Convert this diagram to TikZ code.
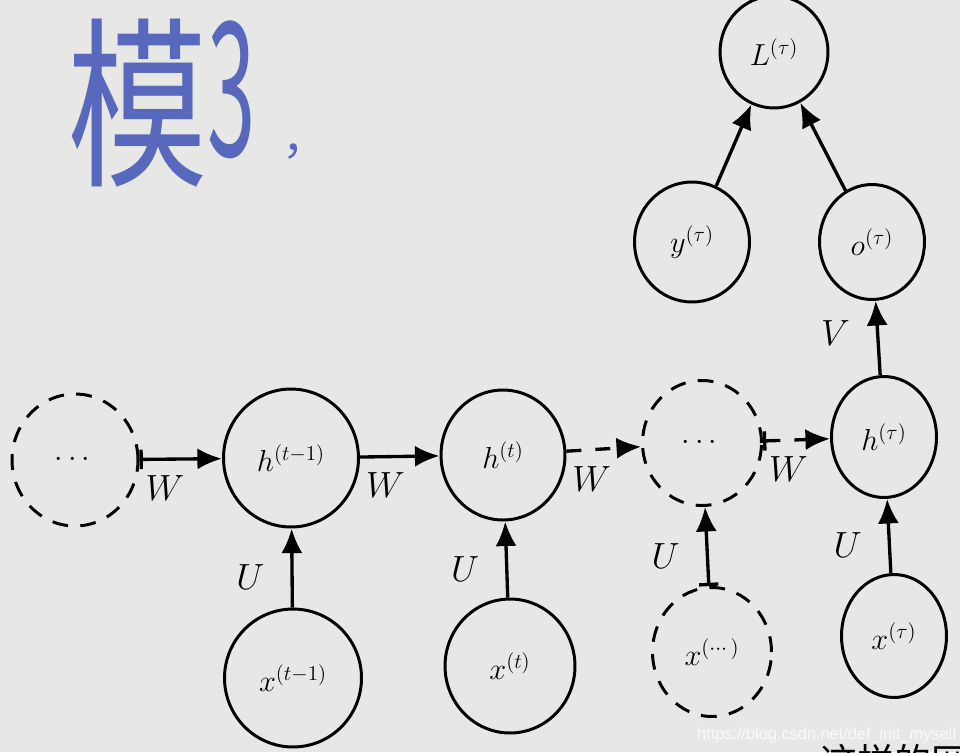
\documentclass[tikz,border=0pt]{standalone}
\usepackage{amsmath,amssymb}
\usepackage{fontspec}
\newfontfamily\cjk{Noto Sans CJK SC}
\newfontfamily\wmfont{Liberation Sans}
\usetikzlibrary{arrows.meta,shapes.geometric}
\definecolor{paper}{RGB}{231,231,229}
\definecolor{pen}{RGB}{62,82,182}

\begin{document}
\begin{tikzpicture}[x=0.02cm, y=-0.02cm,
    every node/.style={inner sep=0pt},
    cell/.style={ellipse, draw, line width=1.7pt, font=\LARGE},
    dcell/.style={cell, dash pattern=on 9pt off 7pt},
    arr/.style={line width=1.9pt, -{Latex[length=14pt,width=12pt]}},
    darr/.style={arr, dash pattern=on 8.5pt off 8pt},
    barr/.style={line width=1.9pt, {Bar[width=11pt]}-{Latex[length=14pt,width=12pt]}},
    wlab/.style={font=\huge, anchor=north west, pos=0, xshift=2.5pt, yshift=-8pt},
    ulab/.style={font=\huge, left=0.52cm, pos=0.38},
    ink/.style={text=pen, opacity=0.85}]

\fill[paper] (0,0) rectangle (960,752);
\useasboundingbox (0,0) rectangle (960,752);
\clip (0,0) rectangle (960,752);

% handwritten note
\node[ink, font=\cjk\fontsize{80}{84}\selectfont, yscale=1.3] (hw1) at (138,103) {模};
\node[ink, font=\cjk\fontsize{80}{84}\selectfont, xscale=0.62, yscale=1.33] (hw2) at (232,90) {3};
\node[ink, font=\cjk\fontsize{26}{30}\selectfont] (hw3) at (305,152) {，};

% hidden units
\node[dcell, minimum width=2.52cm, minimum height=2.64cm] (d1) at (75,460) {$\cdots$};
\node[cell, minimum width=2.7cm, minimum height=2.76cm] (h1) at (291,458) {$h^{(t-1)}$};
\node[cell, minimum width=2.48cm, minimum height=2.6cm] (h2) at (503,455) {$h^{(t)}$};
\node[dcell, minimum width=2.38cm, minimum height=2.5cm] (d2) at (702,443) {$\cdots$};
\node[cell, minimum width=2.1cm, minimum height=2.42cm] (hT) at (884,437) {$h^{(\tau)}$};

% inputs
\node[cell, minimum width=2.74cm, minimum height=2.76cm] (x1) at (293,678) {$x^{(t-1)}$};
\node[cell, minimum width=2.6cm, minimum height=2.68cm] (x2) at (510,666) {$x^{(t)}$};
\node[dcell, minimum width=2.38cm, minimum height=2.58cm] (xd) at (712,652) {$x^{(\cdots)}$};
\node[cell, minimum width=2.1cm, minimum height=2.46cm] (xT) at (894,636) {$x^{(\tau)}$};

% output and loss
\node[cell, minimum width=2.3cm, minimum height=2.4cm] (yT) at (692,242) {$y^{(\tau)}$};
\node[cell, minimum width=2.1cm, minimum height=2.3cm] (oT) at (872,242) {$o^{(\tau)}$};
\node[cell, minimum width=2.16cm, minimum height=2.24cm] (LT) at (774,52) {$L^{(\tau)}$};


\draw[barr] (d1) -- node[wlab]{$W$} (h1);
\draw[arr] (h1) -- node[wlab]{$W$} (h2);
\draw[darr] (h2) -- node[wlab]{$W$} (d2);
\draw[barr, dash pattern=on 8.5pt off 8pt] (d2) -- node[wlab]{$W$} (hT);

\foreach \a/\b in {x1/h1, x2/h2, xT/hT}
    \draw[arr] (\a) -- node[ulab]{$U$} (\b);
\draw[barr] (xd) -- node[ulab]{$U$} (d2);

\draw[arr] (hT) -- node[ulab, pos=0.57]{$V$} (oT);
\draw[arr] (yT) -- (LT);
\draw[arr] (oT) -- (LT);

%\draw (827,737) node{watermark};
\node[font=\wmfont\fontsize{9.3}{11}\selectfont, text=white, opacity=0.8] (wm) at (827,735) {https://blog.csdn.net/def\_init\_myself};
\node[font=\cjk\fontsize{21}{25}\selectfont, anchor=north west] (nxt) at (820,744) {这样的网};

\end{tikzpicture}
\end{document}
